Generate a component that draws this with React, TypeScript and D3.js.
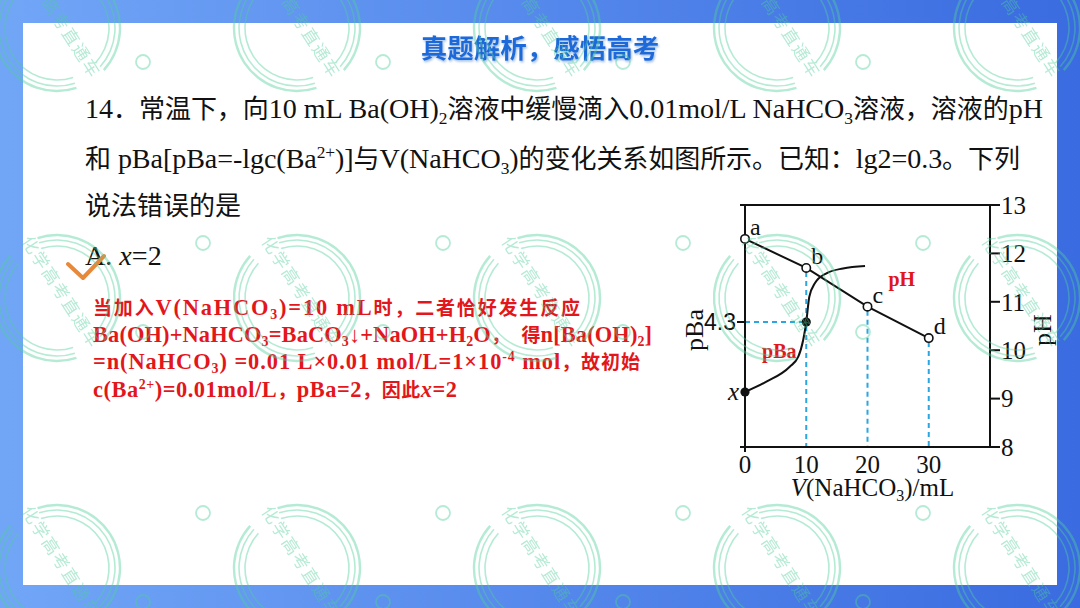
import * as d3 from "d3";

type Seg = { t: string; s?: "sub" | "sup"; i?: boolean };

// ---- chart values ----
const volumeTicks = [0, 10, 20, 30];
const phTicks = [8, 9, 10, 11, 12, 13];
const phPoints = [
  { v: 0, ph: 12.3, name: "a" },
  { v: 10, ph: 11.7, name: "b" },
  { v: 20, ph: 10.9, name: "c" },
  { v: 30, ph: 10.25, name: "d" },
];
// [V(NaHCO3) mL, pBa]
const pBaCurve: [number, number][] = [
  [0, 2],
  [3.5, 2.34],
  [7.3, 2.83],
  [8.7, 3.16],
  [9.5, 3.71],
  [10, 4.3],
  [10.5, 5.13],
  [11.4, 5.57],
  [13.3, 5.9],
  [16, 6.06],
  [19.6, 6.14],
];
const pBaMarks = [
  { v: 0, p: 2 },
  { v: 10, p: 4.3 },
];
const dashedDrops = [10, 20, 30];

// ---- slide text ----
const title = "真题解析，感悟高考";
const question: Seg[][] = [
  [
    { t: "14．常温下，向10 mL Ba(OH)" },
    { t: "2", s: "sub" },
    { t: "溶液中缓慢滴入0.01mol/L NaHCO" },
    { t: "3", s: "sub" },
    { t: "溶液，溶液的pH" },
  ],
  [
    { t: "和 pBa[pBa=-lgc(Ba" },
    { t: "2+", s: "sup" },
    { t: ")]与V(NaHCO" },
    { t: "3", s: "sub" },
    { t: ")的变化关系如图所示。已知：lg2=0.3。下列" },
  ],
  [{ t: "说法错误的是" }],
  [{ t: "A. " }, { t: "x", i: true }, { t: "=2" }],
];
const answer: Seg[][] = [
  [{ t: "当加入V(NaHCO" }, { t: "3", s: "sub" }, { t: ")=10 mL时，二者恰好发生反应" }],
  [
    { t: "Ba(OH)+NaHCO" },
    { t: "3", s: "sub" },
    { t: "=BaCO" },
    { t: "3", s: "sub" },
    { t: "↓+NaOH+H" },
    { t: "2", s: "sub" },
    { t: "O，  得n[Ba(OH)" },
    { t: "2", s: "sub" },
    { t: "]" },
  ],
  [
    { t: "=n(NaHCO" },
    { t: "3", s: "sub" },
    { t: ") =0.01 L×0.01 mol/L=1×10" },
    { t: "-4", s: "sup" },
    { t: " mol，故初始" },
  ],
  [
    { t: "c(Ba" },
    { t: "2+", s: "sup" },
    { t: ")=0.01mol/L，pBa=2，因此" },
    { t: "x", i: true },
    { t: "=2" },
  ],
];
const watermarkText = "化学高考直通车";

const W = 1080;
const H = 608;
const SERIF = "'Liberation Serif', 'Times New Roman', 'Noto Sans CJK SC', serif";
const CJK = "'Noto Sans CJK SC', sans-serif";
const CJK_RE = /([\u2e80-\u9fff\u3000-\u303f\uff00-\uffef]+)/;

// mixed Chinese / Latin line, Latin drawn a little larger like the slide's Times
const Rich = ({
  segs,
  x,
  y,
  size,
  latin = 1,
  length,
  ...rest
}: { segs: Seg[]; x: number; y: number; size: number; latin?: number; length?: number } & Record<string, any>) => {
  let prev = 0;
  const spans: any[] = [];
  segs.forEach((sg, k) => {
    const ls = size * latin;
    const off = sg.s === "sub" ? ls * 0.2 : sg.s === "sup" ? -ls * 0.36 : 0;
    let dy = off - prev;
    prev = off;
    sg.t
      .split(CJK_RE)
      .filter(Boolean)
      .forEach((run, m) => {
        const base = CJK_RE.test(run) ? size : ls;
        spans.push(
          <tspan
            key={`${k}-${m}`}
            dy={dy || undefined}
            fontSize={sg.s ? base * 0.62 : base}
            fontStyle={sg.i ? "italic" : undefined}
          >
            {run}
          </tspan>
        );
        dy = 0;
      });
  });
  return (
    <text
      x={x}
      y={y}
      fontSize={size}
      style={{ whiteSpace: "pre" }}
      textLength={length}
      lengthAdjust={length ? "spacing" : undefined}
      {...rest}
    >
      {spans}
    </text>
  );
};

const ring = d3.arc<{ r: number; w: number; a0: number; a1: number }>()
  .innerRadius((d) => d.r - d.w / 2)
  .outerRadius((d) => d.r + d.w / 2)
  .startAngle((d) => d.a0)
  .endAngle((d) => d.a1);

const Watermark = ({ cx, cy }: { cx: number; cy: number }) => {
  const rad = Math.PI / 180;
  const rings = [
    { r: 63, w: 2.4 },
    { r: 58, w: 1.6 },
    { r: 52, w: 1.6 },
  ];
  const gap = 15 * rad;
  const t1 = 147 * rad;
  const t2 = 327 * rad;
  const spans = [
    [t1 + gap, t2 - gap],
    [t2 + gap, t1 + 2 * Math.PI - gap],
  ];
  return (
    <g transform={`translate(${cx},${cy})`}>
      {rings.flatMap((r, i) =>
        spans.map(([a0, a1], j) => (
          <path key={`${i}-${j}`} d={ring({ ...r, a0, a1 }) || ""} fill="#4fcf9a" />
        ))
      )}
      <text
        transform="translate(4,-6) rotate(57)"
        textAnchor="middle"
        dy="0.35em"
        fontSize={17}
        letterSpacing={1.5}
        fontFamily={CJK}
        fill="#4fcf9a"
      >
        {watermarkText}
      </text>
      <circle cx={146} cy={-55} r={7} fill="none" stroke="#4fcf9a" strokeWidth={1.8} />
      <circle cx={86} cy={34} r={7} fill="none" stroke="#4fcf9a" strokeWidth={1.8} />
    </g>
  );
};

const Chart = () => {
  const x = d3.scaleLinear().domain([0, 40]).range([745, 990]);
  const yPH = d3.scaleLinear().domain([8, 13]).range([447, 205]);
  const yBa = d3.scaleLinear().domain([2, 4.3]).range([392, 322]);

  const phLine = d3
    .line<(typeof phPoints)[number]>()
    .x((d) => x(d.v))
    .y((d) => yPH(d.ph));
  const baLine = d3
    .line<[number, number]>()
    .x((d) => x(d[0]))
    .y((d) => yBa(d[1]))
    .curve(d3.curveMonotoneX);

  const [x0, x1] = x.range();
  const [yb, yt] = yPH.range();
  const blue = "#2aa6e2";

  return (
    <g fontFamily={SERIF} fill="#111">
      {/* guides */}
      {dashedDrops.map((v) => {
        const p = phPoints.find((d) => d.v === v)!;
        return (
          <line key={v} x1={x(v)} x2={x(v)} y1={yPH(p.ph) + 4} y2={yb}
            stroke={blue} strokeWidth={2} strokeDasharray="5 4" />
        );
      })}
      <line x1={x0} x2={x(10)} y1={yBa(4.3)} y2={yBa(4.3)} stroke={blue} strokeWidth={2} strokeDasharray="5 4" />

      {/* frame */}
      <g stroke="#111" strokeWidth={2} fill="none">
        <line x1={x0 - 5} x2={x1} y1={yt} y2={yt} />
        <line x1={x0 - 5} x2={x1} y1={yb} y2={yb} />
        <line x1={x0} x2={x0} y1={yt} y2={yb + 5} />
        <line x1={x1} x2={x1} y1={yt} y2={yb} />
        {phTicks.map((t) => (
          <line key={t} x1={x1} x2={x1 + 10} y1={yPH(t)} y2={yPH(t)} />
        ))}
        <line x1={x0 - 8} x2={x0} y1={yBa(4.3)} y2={yBa(4.3)} />
      </g>

      {/* tick labels */}
      {phTicks.map((t) => (
        <text key={t} x={x1 + 11} y={yPH(t)} dy="0.35em" fontSize={25}>{t}</text>
      ))}
      {volumeTicks.map((t) => (
        <text key={t} x={x(t)} y={yb + 26} textAnchor="middle" fontSize={25}>{t}</text>
      ))}
      <text x={x0 - 9} y={yBa(4.3)} dy="0.36em" textAnchor="end" fontSize={23}
        fontFamily="'Liberation Sans', Arial, sans-serif">4.3</text>
      <text x={x0 - 6} y={yBa(2)} dy="0.3em" textAnchor="end" fontSize={25} fontStyle="italic">x</text>

      {/* axis titles */}
      <text x={(x0 + x1) / 2 + 5} y={yb + 49} textAnchor="middle" fontSize={25}>
        <tspan fontStyle="italic">V</tspan>
        <tspan>(NaHCO</tspan>
        <tspan fontSize={16} dy={5}>3</tspan>
        <tspan dy={-5}>)/mL</tspan>
      </text>
      <text transform={`translate(${x0 - 51},${(yt + yb) / 2 + 4}) rotate(-90)`} textAnchor="middle" dy="0.35em" fontSize={26}>pBa</text>
      <text transform={`translate(${x1 + 52},${(yt + yb) / 2 + 4}) rotate(-90)`} textAnchor="middle" dy="0.35em" fontSize={26}>pH</text>

      {/* series */}
      <path d={baLine(pBaCurve) || ""} fill="none" stroke="#111" strokeWidth={2} />
      <path d={phLine(phPoints) || ""} fill="none" stroke="#111" strokeWidth={2} />
      {phPoints.map((d) => (
        <g key={d.name}>
          <circle cx={x(d.v)} cy={yPH(d.ph)} r={4.2} fill="#fff" stroke="#111" strokeWidth={1.6} />
          <text x={x(d.v) + 5} y={yPH(d.ph) - 4} fontSize={24}>{d.name}</text>
        </g>
      ))}
      {pBaMarks.map((d) => (
        <circle key={d.v} cx={x(d.v)} cy={yBa(d.p)} r={4.6} fill="#111" />
      ))}

      {/* series names */}
      <text x={x(25.6)} y={yPH(11.33)} textAnchor="middle" fontSize={20} fontWeight="bold" fill="#e0161b">pH</text>
      <text x={x(5.6)} y={yBa(3.12)} textAnchor="middle" fontSize={20} fontWeight="bold" fill="#e0161b">pBa</text>
    </g>
  );
};

export default function App() {
  const cols = d3.range(5).map((i) => 57 + 240 * i);
  const rows = d3.range(3).map((j) => 28 + 270 * j);
  const qBase = [118, 168, 215, 265];
  const qLen = [958, 935, undefined, undefined];
  const aBase = [315, 342, 369, 397];
  const aLen = [487, 559, 547, 364];
  return (
    <svg width={W} height={H} style={{ position: "fixed", left: 0, top: 0 }}>
      <defs>
        <linearGradient id="frame" x1="0" x2="1" y1="0" y2="0">
          <stop offset="0" stopColor="#71a6f7" />
          <stop offset="1" stopColor="#3a6be0" />
        </linearGradient>
        <filter id="ts" x="-10%" y="-30%" width="120%" height="160%">
          <feDropShadow dx="1" dy="1.5" stdDeviation="0.8" floodColor="#7fa8e0" floodOpacity="0.8" />
        </filter>
      </defs>
      <rect width={W} height={H} fill="url(#frame)" />
      <rect x={23} y={23} width={1034} height={562} fill="#fff" />

      <text x={540} y={58} textAnchor="middle" fontSize={26.5} fontWeight="bold" fontFamily={CJK} fill="#1d6bd9" filter="url(#ts)">
        {title}
      </text>

      <g fontFamily={SERIF} fill="#111">
        {question.map((segs, k) => (
          <Rich key={k} segs={segs} x={85} y={qBase[k]} size={26} latin={1.08} length={qLen[k]} />
        ))}
      </g>

      <path d="M68,264 L83,278 L104,256" fill="none" stroke="#e8893a" strokeWidth={4} strokeLinecap="round" strokeLinejoin="round" />

      <g fontFamily={SERIF} fill="#e3161b" fontWeight="bold">
        {answer.map((segs, k) => (
          <Rich key={k} segs={segs} x={93} y={aBase[k]} size={19} latin={1.18} length={aLen[k]} />
        ))}
      </g>

      <Chart />

      <g opacity={0.42}>
        {rows.flatMap((cy) => cols.map((cx) => <Watermark key={`${cx}-${cy}`} cx={cx} cy={cy} />))}
      </g>
    </svg>
  );
}
